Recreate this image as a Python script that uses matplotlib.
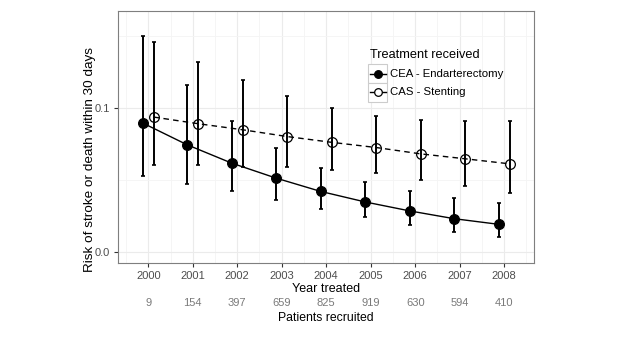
import matplotlib
matplotlib.use("Agg")
import matplotlib.pyplot as plt
import matplotlib.transforms as mtransforms
from matplotlib.lines import Line2D
from matplotlib.patches import Rectangle
from matplotlib.ticker import MultipleLocator

years = [2000, 2001, 2002, 2003, 2004, 2005, 2006, 2007, 2008]
patients = [9, 154, 397, 659, 825, 919, 630, 594, 410]

cea_risk = [0.0894, 0.0743, 0.0616, 0.0512, 0.0420, 0.0347, 0.0285, 0.0231, 0.0192]
cea_low = [0.053, 0.047, 0.042, 0.036, 0.030, 0.024, 0.019, 0.0139, 0.0102]
cea_high = [0.150, 0.116, 0.0905, 0.072, 0.058, 0.0488, 0.0424, 0.0375, 0.0338]

cas_risk = [0.0935, 0.0889, 0.0847, 0.0800, 0.0760, 0.0724, 0.0680, 0.0646, 0.0611]
cas_low = [0.060, 0.060, 0.059, 0.0588, 0.057, 0.0546, 0.050, 0.0458, 0.0412]
cas_high = [0.1454, 0.1315, 0.119, 0.108, 0.0998, 0.0944, 0.0917, 0.0905, 0.0905]

series = [
    ("CEA - Endarterectomy", cea_risk, cea_low, cea_high, -0.125, "-", "black"),
    ("CAS - Stenting", cas_risk, cas_low, cas_high, 0.125, (0, (4, 3)), "white"),
]

TXT = "#4d4d4d"
W, H = 640, 360
plt.rcParams["font.family"] = ["Liberation Sans", "DejaVu Sans"]


def px(x, y):
    # pixel position (from top left) -> figure fraction
    return x / W, 1 - y / H


fig = plt.figure(figsize=(6.4, 3.6), dpi=100)
ax = fig.add_axes([118 / W, 1 - 263 / H, (534 - 118) / W, (263 - 11) / H])

for label, risk, low, high, off, ls, face in series:
    xs = [y + off for y in years]
    err = [[r - l for r, l in zip(risk, low)], [h - r for r, h in zip(risk, high)]]
    ax.errorbar(xs, risk, yerr=err, fmt="none", ecolor="black", elinewidth=1.4,
                capsize=1.6, capthick=1.2, zorder=3)
    ax.plot(xs, risk, color="black", linestyle=ls, linewidth=1.0, zorder=2)
    ax.plot(xs, risk, linestyle="none", marker="o", markersize=7,
            markerfacecolor=face if face == "black" else "none",
            markeredgecolor="black", markeredgewidth=0.9, zorder=4)

ax.set_xlim(1999.32, 2008.67)
ax.set_ylim(-0.0076, 0.167)
ax.set_xticks(years)
ax.set_yticks([0.0, 0.1])
ax.set_yticklabels(["0.0", "0.1"])
ax.xaxis.set_minor_locator(MultipleLocator(0.5))
ax.yaxis.set_minor_locator(MultipleLocator(0.05))
ax.grid(which="major", color="#ebebeb", linewidth=0.8)
ax.grid(which="minor", color="#f4f4f4", linewidth=0.6)
ax.set_axisbelow(True)
ax.tick_params(which="minor", length=0)
ax.tick_params(which="major", length=3, color="#333333", labelsize=8, labelcolor=TXT, pad=2.5)
for s in ax.spines.values():
    s.set_color("#7f7f7f")
    s.set_linewidth(0.8)

ax.set_ylabel("Risk of stroke or death within 30 days", fontsize=9.7, color="black")
ax.yaxis.set_label_coords(-0.053, 0.41)
ax.set_xlabel("Year treated", fontsize=9, color="black")
ax.xaxis.set_label_coords(0.5, -0.078)

trans = mtransforms.blended_transform_factory(ax.transData, ax.transAxes)
for yr, n in zip(years, patients):
    ax.text(yr, -0.16, str(n), transform=trans, ha="center", va="center",
            fontsize=8, color="#7a7a7a")
ax.text(0.5, -0.218, "Patients recruited", transform=ax.transAxes,
        ha="center", va="center", fontsize=8.8, color="black")

# legend, ggplot style with boxed keys
fig.text(*px(370, 55), "Treatment received", fontsize=9.2, ha="left", va="center")
for i, (label, risk, low, high, off, ls, face) in enumerate(series):
    top = 64.5 + i * 18.5
    x0, y0 = px(368, top + 18.5)
    fig.patches.append(Rectangle((x0, y0), 19 / W, 18.5 / H, transform=fig.transFigure,
                                 facecolor="white", edgecolor="#cccccc", linewidth=0.8))
    yc = top + 9.25
    fig.lines.append(Line2D([369.5 / W, 385.5 / W], [1 - yc / H] * 2, transform=fig.transFigure,
                            color="black", linewidth=1.0, linestyle="-"))
    fig.lines.append(Line2D([377.5 / W], [1 - yc / H], transform=fig.transFigure,
                            marker="o", markersize=5.5, markerfacecolor=face,
                            markeredgecolor="black", markeredgewidth=0.9))
    fig.text(*px(390, yc), label, fontsize=8.2, ha="left", va="center")

fig.savefig("out.png", dpi=100, facecolor="white")
